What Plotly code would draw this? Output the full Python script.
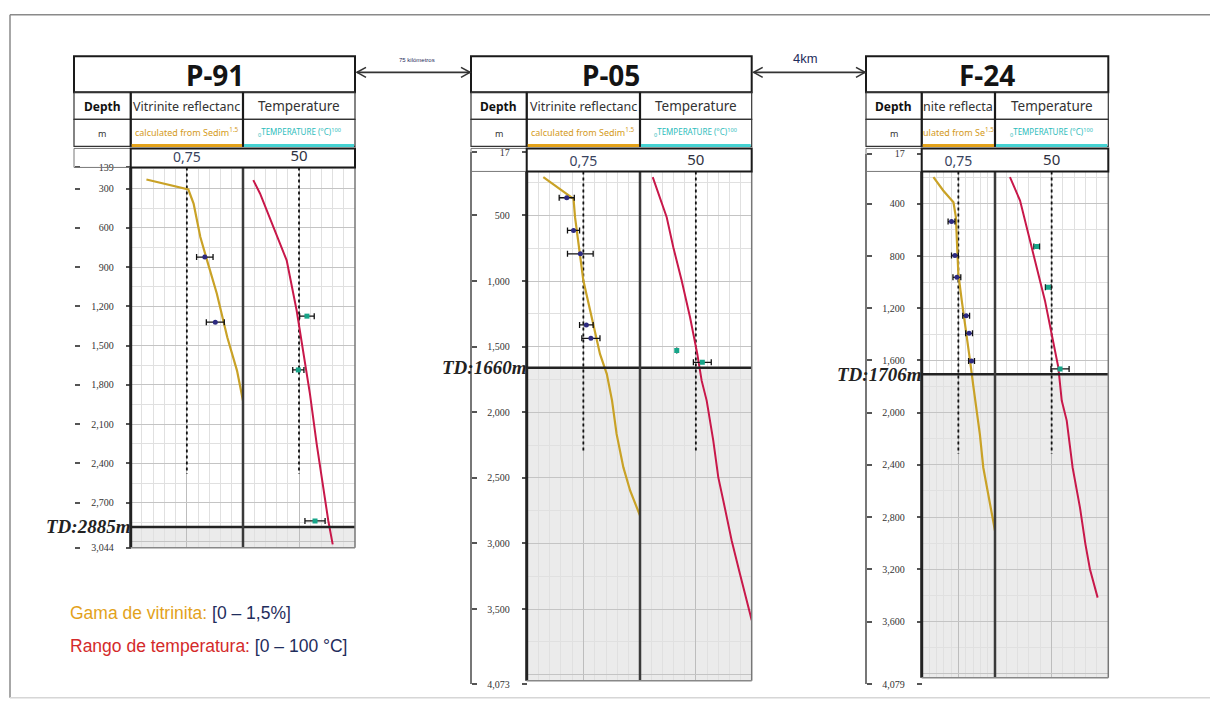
import plotly.graph_objects as go

W, H = 1218, 703          # browser window
OX = 8                    # page margin (horizontal)
Y0, KY = 13.7, 0.982      # measured vertical placement of the figure in the photographed window
FW, FH = W - OX, 697

# ------------------------------------------------------------------ data
wells = ["P-91", "P-05", "F-24"]
td_depth = [2885, 1660, 1706]
vr_header = ["Vitrinite reflectanc", "Vitrinite reflectanc", "nite reflecta"]
vr_sub_header = ["calculated from Sedim", "calculated from Sedim", "ulated from Se"]

vr_scale_value = 0.75
t_scale_value = 50
vr_range = [0, 1.5]
t_range = [0, 100]
ref_line_end = [2480, 2315, 2317]

p91_depth_ticks = [139, 300, 600, 900, 1200, 1500, 1800, 2100, 2400, 2700, 3044]
p05_depth_ticks = [17, 500, 1000, 1500, 2000, 2500, 3000, 3500, 4073]
f24_depth_ticks = [17, 400, 800, 1200, 1600, 2000, 2400, 2800, 3200, 3600, 4079]

# P-91
p91_vr_depth = [231, 308, 415, 671, 849, 1102, 1436, 1691, 1921]
p91_vr = [0.21, 0.77, 0.84, 0.93, 1.02, 1.15, 1.29, 1.42, 1.50]
p91_t_depth = [236, 338, 594, 849, 1232, 1563, 1870, 2253, 2585, 2840, 3018]
p91_t = [9.2, 15.2, 27.1, 39.0, 47.9, 53.8, 59.8, 65.8, 71.7, 76.2, 80.1]
p91_vr_obs_depth = [824, 1321]
p91_vr_obs = [0.99, 1.13]
p91_vr_obs_err = [0.11, 0.12]
p91_t_obs_depth = [1275, 1686, 2839]
p91_t_obs = [57.1, 49.4, 64.3]
p91_t_obs_err = [6.5, 5.0, 9.0]

# P-05
p05_vr_depth = [208, 284, 373, 513, 691, 996, 1326, 1555, 1707, 1911, 2165, 2420, 2598, 2750, 2788]
p05_vr = [0.22, 0.40, 0.62, 0.64, 0.68, 0.75, 0.88, 0.97, 1.06, 1.13, 1.19, 1.28, 1.37, 1.47, 1.50]
p05_t_depth = [208, 360, 513, 742, 996, 1276, 1555, 1759, 1911, 2216, 2496, 2674, 2979, 3233, 3499, 3585]
p05_t = [11.4, 17.9, 23.9, 29.8, 37.3, 44.8, 51.3, 55.2, 59.7, 65.6, 70.1, 74.6, 82.1, 89.5, 97.0, 100.0]
p05_vr_obs_depth = [365, 614, 792, 1334, 1436]
p05_vr_obs = [0.53, 0.62, 0.71, 0.79, 0.85]
p05_vr_obs_err = [0.10, 0.08, 0.17, 0.09, 0.12]
p05_t_obs_depth = [1530, 1619]
p05_t_obs = [32.9, 55.8]
p05_t_obs_err = [0.0, 8.0]

# F-24
f24_vr_depth = [196, 298, 388, 503, 681, 937, 1142, 1397, 1604, 1806, 2010, 2164, 2420, 2624, 2905]
f24_vr = [0.24, 0.44, 0.65, 0.70, 0.72, 0.75, 0.82, 0.92, 0.99, 1.06, 1.13, 1.19, 1.26, 1.36, 1.50]
f24_t_depth = [196, 375, 630, 886, 1142, 1397, 1653, 1907, 2061, 2420, 2727, 3007, 3199, 3417]
f24_t = [13.2, 22.1, 29.4, 36.8, 44.1, 50.0, 55.9, 58.9, 63.3, 68.5, 75.0, 79.8, 83.8, 90.6]
f24_vr_obs_depth = [536, 796, 963, 1257, 1392, 1604]
f24_vr_obs = [0.61, 0.68, 0.72, 0.91, 0.97, 1.02]
f24_vr_obs_err = [0.07, 0.07, 0.08, 0.07, 0.07, 0.06]
f24_t_obs_depth = [727, 1040, 1665]
f24_t_obs = [36.8, 47.0, 57.4]
f24_t_obs_err = [2.5, 2.5, 8.0]

distance_labels = ["75 kilómetros", "4km"]

# ------------------------------------------------------------------ geometry (layout only, window pixels)
geo = [
    dict(cl=74, cr=130.7, cm=243, cx=355, top=167, bot=547, dtop=167, dbot=547, step=300, lline=False),
    dict(cl=471, cr=526.7, cm=640, cx=751.7, top=171, bot=680, dtop=151.7, dbot=683.4, step=500, lline=True),
    dict(cl=866, cr=921.7, cm=995, cx=1108.3, top=171, bot=677, dtop=153.4, dbot=683.2, step=400, lline=True),
]
depth_ticks = [p91_depth_ticks, p05_depth_ticks, f24_depth_ticks]
series = [
    (p91_vr_depth, p91_vr, p91_t_depth, p91_t, p91_vr_obs_depth, p91_vr_obs, p91_vr_obs_err,
     p91_t_obs_depth, p91_t_obs, p91_t_obs_err),
    (p05_vr_depth, p05_vr, p05_t_depth, p05_t, p05_vr_obs_depth, p05_vr_obs, p05_vr_obs_err,
     p05_t_obs_depth, p05_t_obs, p05_t_obs_err),
    (f24_vr_depth, f24_vr, f24_t_depth, f24_t, f24_vr_obs_depth, f24_vr_obs, f24_vr_obs_err,
     f24_t_obs_depth, f24_t_obs, f24_t_obs_err),
]

VR_COLOR = "#c9a227"
T_COLOR = "#c8184a"
VR_PT = "#2d2a80"
T_PT = "#17a589"
ORANGE = "#e3a21a"
CYAN = "#45d2d2"
NAVY = "#1f2d5c"


def px(x):
    return (x - OX) / FW


def py(y):
    return 1 - ((y - Y0) / KY) / FH


def akey(p, n):
    return f"{p}axis" if n == 1 else f"{p}axis{n}"


def aref(p, n):
    return p if n == 1 else f"{p}{n}"


def lpx(x0, y0, x1, y1, color, width):
    return dict(type="line", xref="paper", yref="paper", x0=px(x0), y0=py(y0),
                x1=px(x1), y1=py(y1), line=dict(color=color, width=width))


def rpx(x0, y0, x1, y1, color, width):
    return dict(type="rect", xref="paper", yref="paper", x0=px(x0), y0=py(y0),
                x1=px(x1), y1=py(y1), line=dict(color=color, width=width))


def ann(x, y, text, size, color="#222", family="Noto Sans", xanchor="center", yanchor="middle"):
    return dict(x=px(x), y=py(y), xref="paper", yref="paper", text=text, showarrow=False,
                font=dict(size=size, color=color, family=family),
                xanchor=xanchor, yanchor=yanchor)


fig = go.Figure()
layout = dict(width=FW, height=FH, margin=dict(l=0, r=0, t=0, b=0),
              paper_bgcolor="white", plot_bgcolor="rgba(0,0,0,0)", showlegend=False)
shapes = []
annotations = []

# outer frame
shapes.append(lpx(10, 14.5, W, 14.5, "#8a8a8a", 1.5))
shapes.append(lpx(10, 14.5, 10, 697, "#8a8a8a", 1.5))
shapes.append(lpx(10, 697, W, 697, "#d6d6d6", 1.5))

for i, g in enumerate(geo):
    n = 3 * i + 1
    xv, xt, xd = n, n + 1, n + 2
    yt, yd, yk = n, n + 1, n + 2
    ticks = depth_ticks[i]
    d0, d1 = ticks[0], ticks[-1]
    slope = (g["dbot"] - g["dtop"]) / (d1 - d0)
    top_depth = d0 + (g["top"] - g["dtop"]) / slope
    bot_depth = d0 + (g["bot"] - g["dtop"]) / slope

    layout[akey("y", yt)] = dict(
        domain=[py(g["bot"]), py(g["top"])], range=[bot_depth, top_depth], anchor=aref("x", xv),
        showticklabels=False, ticks="", showgrid=True, gridcolor="#c4c4c4", gridwidth=1,
        tick0=0, dtick=g["step"], zeroline=False, showline=False,
        minor=dict(tickmode="linear", tick0=0, dtick=g["step"] / 2, showgrid=True,
                   gridcolor="#e0e0e0", gridwidth=1))
    layout[akey("x", xv)] = dict(
        domain=[px(g["cr"]), px(g["cm"])], range=vr_range, anchor=aref("y", yt), side="top",
        tickmode="array", tickvals=[vr_scale_value],
        ticktext=[f"{vr_scale_value}".replace(".", ",")],
        ticks="", showgrid=True, gridcolor="#bdbdbd", zeroline=False, showline=False,
        ticklabelstandoff=2, tickfont=dict(size=14, color="#39435e", family="Noto Sans"),
        minor=dict(tickmode="linear", tick0=0, dtick=0.15, showgrid=True, gridcolor="#e0e0e0"))
    layout[akey("x", xt)] = dict(
        domain=[px(g["cm"]), px(g["cx"])], range=t_range, anchor=aref("y", yt), side="top",
        tickmode="array", tickvals=[t_scale_value], ticktext=[str(t_scale_value)],
        ticks="", showgrid=True, gridcolor="#bdbdbd", zeroline=False, showline=False,
        ticklabelstandoff=2, tickfont=dict(size=15, color="#2e3140", family="Noto Sans"),
        minor=dict(tickmode="linear", tick0=0, dtick=10, showgrid=True, gridcolor="#e0e0e0"))
    layout[akey("x", xd)] = dict(domain=[px(g["cl"]), px(g["cr"])], range=[0, 1],
                                 anchor=aref("y", yd), visible=False)
    layout[akey("y", yd)] = dict(
        domain=[py(g["dbot"]), py(g["dtop"])], range=[d1, d0], anchor="free", position=px(g["cr"]),
        side="left", tickmode="array", tickvals=ticks, ticktext=[f"{v:,}" for v in ticks],
        ticks="outside", ticklen=5, tickwidth=1.5, tickcolor="#555", ticklabelstandoff=10,
        showgrid=False, zeroline=False, showline=False,
        tickfont=dict(size=10, color="#333", family="Liberation Serif"))
    layout[akey("y", yk)] = dict(
        overlaying=aref("y", yd), range=[d1, d0], anchor="free", position=px(g["cl"]), side="right",
        tickmode="array", tickvals=ticks, showticklabels=False, ticks="outside", ticklen=5,
        tickwidth=1.5, tickcolor="#555", showgrid=False, zeroline=False,
        showline=g["lline"], linecolor="#777", linewidth=1.8)
    for ya in (yd, yk):
        fig.add_trace(go.Scatter(x=[None], y=[None], xaxis=aref("x", xd), yaxis=aref("y", ya),
                                 hoverinfo="skip", showlegend=False))

    (vrd, vr, td, tv, vod, vo, voe, tod, to, toe) = series[i]
    XV, XT, YT = aref("x", xv), aref("x", xt), aref("y", yt)

    shapes.append(dict(type="rect", xref=XV, yref=YT, x0=vr_range[0], x1=vr_range[1],
                       y0=td_depth[i], y1=bot_depth, fillcolor="#ebebeb", line=dict(width=0),
                       layer="below"))
    shapes.append(dict(type="rect", xref=XT, yref=YT, x0=t_range[0], x1=t_range[1],
                       y0=td_depth[i], y1=bot_depth, fillcolor="#ebebeb", line=dict(width=0),
                       layer="below"))

    fig.add_trace(go.Scatter(x=[vr_scale_value, vr_scale_value], y=[top_depth, ref_line_end[i]],
                             xaxis=XV, yaxis=YT, mode="lines",
                             line=dict(color="#111", width=1.8, dash="dot"), hoverinfo="skip"))
    fig.add_trace(go.Scatter(x=[t_scale_value, t_scale_value], y=[top_depth, ref_line_end[i]],
                             xaxis=XT, yaxis=YT, mode="lines",
                             line=dict(color="#111", width=1.8, dash="dot"), hoverinfo="skip"))
    fig.add_trace(go.Scatter(x=vr, y=vrd, xaxis=XV, yaxis=YT, mode="lines",
                             line=dict(color=VR_COLOR, width=2.2)))
    fig.add_trace(go.Scatter(x=tv, y=td, xaxis=XT, yaxis=YT, mode="lines",
                             line=dict(color=T_COLOR, width=2)))
    fig.add_trace(go.Scatter(x=vo, y=vod, xaxis=XV, yaxis=YT, mode="markers",
                             marker=dict(size=5, color=VR_PT),
                             error_x=dict(type="data", array=voe, color="#111",
                                          thickness=1.3, width=3)))
    fig.add_trace(go.Scatter(x=to, y=tod, xaxis=XT, yaxis=YT, mode="markers",
                             marker=dict(size=5, color=T_PT, symbol="square"),
                             error_x=dict(type="data", array=toe, color="#111",
                                          thickness=1.3, width=3)))

    shapes.append(dict(type="line", xref="paper", yref=YT, x0=px(g["cr"]), x1=px(g["cx"]),
                       y0=td_depth[i], y1=td_depth[i], line=dict(color="#222", width=2.5)))
    annotations.append(dict(x=px(g["cr"] + 1), y=td_depth[i], xref="paper", yref=YT,
                            text=f"<b><i>TD:{td_depth[i]}m</i></b>", showarrow=False,
                            xanchor="right", yanchor="middle",
                            font=dict(size=19, color="#222", family="Liberation Serif")))

    shapes.append(lpx(g["cr"], g["top"], g["cr"], g["bot"], "#222", 3))
    shapes.append(lpx(g["cm"], g["top"], g["cm"], g["bot"], "#3a3a3a", 2.5))
    shapes.append(lpx(g["cx"], g["top"], g["cx"], g["bot"], "#777", 1.5))
    shapes.append(lpx(g["cr"], g["bot"], g["cx"], g["bot"], "#888", 1.5))

    cl, cr, cm, cx = g["cl"], g["cr"], g["cm"], g["cx"]
    shapes.append(rpx(cl, 56, cx, 92, "#1a1a1a", 2))
    for (a, b) in ((cl, cr), (cr, cm), (cm, cx)):
        shapes.append(rpx(a, 92, b, 119, "#333", 1.2))
        shapes.append(rpx(a, 119, b, 146, "#333", 1.2))
    shapes.append(lpx(cr, 92, cr, 146, "#1a1a1a", 2.2))
    shapes.append(lpx(cm, 92, cm, 146, "#1a1a1a", 2.2))
    shapes.append(lpx(cr + 1, 145, cm - 1, 145, ORANGE, 3))
    shapes.append(lpx(cm + 1, 145, cx - 1, 145, CYAN, 3))
    shapes.append(rpx(cl, 148, cr, g["top"], "#777", 1))
    shapes.append(rpx(cr, 148, cx, g["top"], "#1a1a1a", 2))

    annotations.append(ann((cl + cx) / 2, 74.5, f"<b>{wells[i]}</b>", 28, "#141414"))
    annotations.append(ann((cl + cr) / 2, 106, "<b>Depth</b>", 12, "#111"))
    annotations.append(ann((cr + cm) / 2, 106, vr_header[i], 12.5, "#333"))
    annotations.append(ann((cm + cx) / 2, 106, "Temperature", 13.5, "#333"))
    annotations.append(ann((cl + cr) / 2, 133, "m", 9, "#333"))
    annotations.append(ann((cr + cm) / 2, 132, f"{vr_sub_header[i]}<sup>1.5</sup>", 9, "#d49a1a"))
    annotations.append(ann((cm + cx) / 2, 132, "<sub>0</sub>TEMPERATURE (°C)<sup>100</sup>",
                           8, "#2cbcbc"))

for (x0, x1, yv, label, lx, ly, size) in (
        (geo[0]["cx"] + 2, geo[1]["cl"] - 1, 72, distance_labels[0], 417, 60, 6),
        (geo[1]["cx"] + 2, geo[2]["cl"] - 1, 72, distance_labels[1], 805, 58, 13)):
    shapes.append(lpx(x0, yv, x1, yv, "#333", 1.6))
    shapes.append(dict(type="path", xref="paper", yref="paper",
                       path=f"M {px(x0 + 9)} {py(yv - 5)} L {px(x0)} {py(yv)} L {px(x0 + 9)} {py(yv + 5)}",
                       line=dict(color="#333", width=1.6)))
    shapes.append(dict(type="path", xref="paper", yref="paper",
                       path=f"M {px(x1 - 9)} {py(yv - 5)} L {px(x1)} {py(yv)} L {px(x1 - 9)} {py(yv + 5)}",
                       line=dict(color="#333", width=1.6)))
    annotations.append(ann(lx, ly, label, size, NAVY, "Liberation Sans"))

annotations.append(ann(68, 612, f"<span style='color:{ORANGE}'>Gama de vitrinita:</span> "
                                f"<span style='color:{NAVY}'>[0 – 1,5%]</span>", 17.5, NAVY,
                       "Liberation Sans", xanchor="left"))
annotations.append(ann(68, 645, "<span style='color:#d42a2a'>Rango de temperatura:</span> "
                                f"<span style='color:{NAVY}'>[0 – 100 °C]</span>", 17.5, NAVY,
                       "Liberation Sans", xanchor="left"))

layout["shapes"] = shapes
layout["annotations"] = annotations
fig.update_layout(**layout)
fig.write_html("out.html")
